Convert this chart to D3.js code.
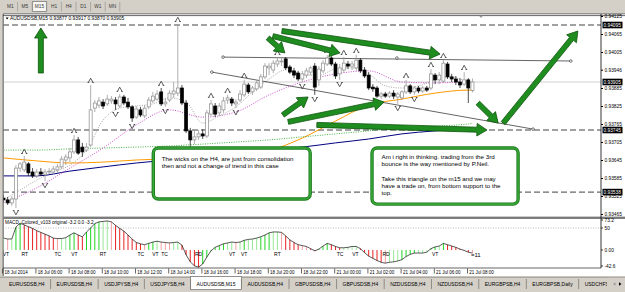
<!DOCTYPE html>
<html>
<head>
<meta charset="utf-8">
<script src="https://cdnjs.cloudflare.com/ajax/libs/d3/7.8.5/d3.min.js"></script>
<style>
body{margin:0;background:#fff;overflow:hidden}
svg{display:block;font-family:"Liberation Sans",Arial,sans-serif}
</style>
</head>
<body>
<svg id="chart" width="625" height="292"></svg>
<script>
// ---- values (AUDUSDSB M15) ----
const periods=["M1","M5","M15","H1","H4","D1","W1","MN"]
const tabs=["EURUSDSB,H4","EURUSDSB,H4","USDJPYSB,H4","USDJPYSB,H4","AUDUSDSB,M15","AUDUSDSB,H4","GBPUSDSB,H4","GBPUSDSB,H4","NZDUSDSB,H4","NZDUSDSB,H4","EURGBPSB,H4","EURGBPSB,Daily","USDCHFSB,H4"]
const symbol="AUDUSDSB,M15"
const macdTitle="MACD_Colored_v103 original -3.2 0.0 -3.2"

const timeTickBars=[0,8,16,24,32,40,48,56,64,72,80,88,96,104,112]
const timeLabels=["18 Jul 2014","18 Jul 06:00","18 Jul 08:00","18 Jul 10:00","18 Jul 12:00","18 Jul 14:00","18 Jul 16:00","18 Jul 18:00","18 Jul 20:00","18 Jul 22:00","21 Jul 00:00","21 Jul 02:00","21 Jul 04:00","21 Jul 06:00","21 Jul 08:00"]

const opens=[0.93518,0.93512,0.93502,0.93515,0.93618,0.93612,0.93632,0.93605,0.93592,0.93605,
0.93598,0.93605,0.93605,0.93612,0.93622,0.93645,0.93652,0.93672,0.93712,0.93688,
0.93678,0.93695,0.93818,0.93828,0.93838,0.93832,0.93842,0.93845,0.93825,0.93855,
0.93838,0.93822,0.93788,0.93812,0.93792,0.93822,0.93842,0.93848,0.93872,0.93832,
0.93845,0.93865,0.93868,0.93885,0.93835,0.93742,0.93712,0.93722,0.93732,0.93725,
0.93798,0.93825,0.93802,0.93812,0.93845,0.93848,0.93832,0.93845,0.93862,0.93895,
0.93872,0.93882,0.93888,0.93922,0.93952,0.93945,0.93965,0.93972,0.93982,0.93955,
0.93942,0.93935,0.93915,0.93928,0.93938,0.93958,0.93912,0.93942,0.93965,0.93985,
0.93965,0.93932,0.93945,0.93965,0.93958,0.93952,0.93978,0.93945,0.93928,0.93888,
0.93885,0.93858,0.93865,0.93858,0.93868,0.93855,0.93852,0.93872,0.93892,0.93872,
0.93885,0.93875,0.93885,0.93885,0.93928,0.93912,0.93908,0.93965,0.93922,0.93915,
0.93905,0.93898,0.93912,0.93877]
const highs=[0.93528,0.93522,0.93525,0.93628,0.93638,0.93658,0.93638,0.93618,0.93615,0.93618,
0.93615,0.93618,0.93625,0.93632,0.93658,0.93665,0.93685,0.93728,0.93722,0.93702,
0.93702,0.93895,0.93845,0.93855,0.93848,0.93862,0.93858,0.93855,0.93865,0.93862,
0.93852,0.93828,0.93825,0.93822,0.93828,0.93855,0.93872,0.93878,0.93885,0.93852,
0.93878,0.93905,0.94098,0.93895,0.93845,0.93752,0.93745,0.93745,0.93748,0.93812,
0.93845,0.93835,0.93835,0.93855,0.93862,0.93855,0.93848,0.93878,0.93912,0.93902,
0.93892,0.93912,0.93932,0.93968,0.93968,0.93978,0.93988,0.93985,0.93988,0.93962,
0.93952,0.93942,0.93942,0.93952,0.93958,0.93968,0.93958,0.93978,0.93995,0.93992,
0.93972,0.93965,0.93988,0.93975,0.93975,0.93995,0.93985,0.93955,0.93938,0.93898,
0.93892,0.93872,0.93872,0.93875,0.93878,0.93872,0.93878,0.93912,0.93898,0.93892,
0.93892,0.93892,0.93892,0.93948,0.93935,0.93938,0.93978,0.93972,0.93932,0.93925,
0.93918,0.93938,0.93918,0.93917]
const lows=[0.93502,0.93495,0.93492,0.93485,0.93605,0.93605,0.93592,0.93585,0.93585,0.93592,
0.93575,0.93598,0.93598,0.93602,0.93615,0.93628,0.93638,0.93665,0.93662,0.93655,
0.93672,0.93688,0.93805,0.93818,0.93815,0.93825,0.93832,0.93812,0.93818,0.93828,
0.93815,0.93772,0.93782,0.93788,0.93785,0.93815,0.93835,0.93842,0.93825,0.93822,
0.93838,0.93852,0.93858,0.93828,0.93735,0.93688,0.93698,0.93712,0.93715,0.93718,
0.93792,0.93788,0.93792,0.93802,0.93832,0.93825,0.93818,0.93838,0.93855,0.93865,
0.93862,0.93875,0.93882,0.93915,0.93928,0.93935,0.93955,0.93958,0.93945,0.93932,
0.93918,0.93908,0.93905,0.93918,0.93928,0.93862,0.93892,0.93935,0.93958,0.93958,
0.93915,0.93912,0.93935,0.93948,0.93945,0.93942,0.93935,0.93918,0.93878,0.93872,
0.93852,0.93848,0.93852,0.93852,0.93848,0.93832,0.93845,0.93865,0.93865,0.93862,
0.93868,0.93868,0.93872,0.93878,0.93898,0.93898,0.93902,0.93915,0.93905,0.93895,
0.93885,0.93892,0.93835,0.93870]
const closes=[0.93512,0.93502,0.93515,0.93618,0.93632,0.93638,0.93602,0.93592,0.93605,0.93598,
0.93605,0.93608,0.93615,0.93622,0.93648,0.93655,0.93672,0.93712,0.93668,0.93672,
0.93688,0.93812,0.93835,0.93842,0.93825,0.93848,0.93848,0.93832,0.93855,0.93835,
0.93822,0.93785,0.93815,0.93795,0.93818,0.93845,0.93858,0.93865,0.93832,0.93838,
0.93868,0.93875,0.93885,0.93835,0.93742,0.93712,0.93722,0.93732,0.93725,0.93802,
0.93832,0.93798,0.93825,0.93842,0.93852,0.93835,0.93838,0.93865,0.93898,0.93872,
0.93885,0.93902,0.93922,0.93958,0.93958,0.93968,0.93975,0.93975,0.93952,0.93938,
0.93928,0.93915,0.93932,0.93942,0.93952,0.93888,0.93948,0.93968,0.93985,0.93965,
0.93925,0.93952,0.93968,0.93958,0.93965,0.93978,0.93942,0.93925,0.93885,0.93882,
0.93858,0.93865,0.93858,0.93868,0.93858,0.93865,0.93872,0.93892,0.93872,0.93885,
0.93875,0.93885,0.93878,0.93932,0.93912,0.93928,0.93968,0.93922,0.93915,0.93905,
0.93895,0.93912,0.93885,0.93905]

const upFractals=[5,17,21,28,38,42,50,54,58,66,78,82,85,97,103,106,111]
const downFractals=[3,10,27,31,39,56,72,75,81,95,99]

// moving averages, read every 4 bars (fast) or 8 bars (others), plus the last bar
const maFast=[0.93512,0.93545,0.93578,0.93605,0.93628,0.93678,0.93778,0.93818,0.93825,0.93832,
0.93852,0.93838,0.93768,0.93792,0.93822,0.93872,0.93915,0.93945,0.93928,0.93928,
0.93948,0.93952,0.93932,0.93892,0.93885,0.93892,0.93912,0.93922,0.93905,0.93902]
const maMagenta=[0.93502,0.93552,0.93618,0.93685,0.93762,0.93812,0.93788,0.93805,0.93862,0.93905,0.93932,0.93942,0.93905,0.93902,0.93905,0.93902]
const maGreen=[0.93678,0.93678,0.93682,0.93685,0.93688,0.93692,0.93698,0.93705,0.93712,0.93722,0.93732,0.93742,0.93752,0.93758,0.93765,0.93768]
const maOrange=[0.93652,0.93642,0.93635,0.93638,0.93645,0.93648,0.93645,0.93648,0.93675,0.93718,0.93775,0.93828,0.93848,0.93868,0.93878,0.93878]
const maNavy=[0.93592,0.93592,0.93608,0.93622,0.93635,0.93645,0.93655,0.93665,0.93678,0.93688,0.93702,0.93715,0.93732,0.93742,0.93748,0.93748]

const priceTicks=[0.94125,0.94065,0.94005,0.93946,0.93885,0.93825,0.93765,0.93705,0.93645,0.93585,0.93525,0.93465]
const levelLines=[0.94095,0.93745,0.93538]

const macdVals=[27,25,25,52,61,57,53,49,44,40,
36,32,27,26,26,28,34,39,34,30,
41,50,60,64,65,66,64,56,49,43,
34,25,17,14,12,15,18,20,18,17,
16,17,18,11,-11,-27,-36,-39,-32,-16,
-2,6,10,14,16,18,17,18,22,24,
25,27,30,34,39,41,41,40,32,23,
17,12,10,8,3,-2,2,9,15,12,
8,5,5,6,8,8,3,-6,-14,-19,
-24,-28,-30,-28,-27,-25,-22,-15,-10,-7,
-7,-7,-5,3,7,9,15,12,9,6,
2,-1,-5,-7]
const macdTicks=[73.2,50,0,-42.6]
const macdTickLabels=["73.2","50","0.00","-42.6"]
const macdMarkBars=[0.6,5.1,13.1,17.1,24,33.1,36.6,38.8,47,55.1,58,66,81.1,84.8,92.2,104]
const macdMarks=["VT","RT","TC","VT","RT","TC","VT","TC","RD","VT","VT","RT","TC","VT","RD","VT"]

// drawn objects, anchored in bar / price units
const trendLines=[[52.9,0.93988,136.7,0.93975],[50.2,0.93938,127.6,0.93748]]
const trendMid=[[94.8,0.93985]]
const arrows=[[9,0.93935,9,0.94085],[63.7,0.94052,67.8,0.94002],[64.9,0.94058,81.1,0.94002],
[67.1,0.94075,105.2,0.93998],[67.3,0.93795,73.4,0.93855],[68.6,0.93772,91.7,0.93838],
[75.5,0.93762,116.5,0.93745],[114.3,0.93835,119.2,0.93768],[120.4,0.93768,138.4,0.94075]]
const note1=["The wicks on the H4, are just from consolidation","then and not a change of trend in this case"]
const note2=["Am i right in thinking. trading from the 3rd","bounce is the way mentioned by P.Neil.","","Take this triangle on the m15 and we may","have a trade on, from bottom support to the","top."]
const noteBoxes=[[36.1,0.93685,73.9,0.93515],[88.8,0.93685,124,0.93498]]

// ---- layout ----
const svg=d3.select("#chart")
const left=3,right=601,mainTop=16,mainBot=216.5,macdTop=219.5,macdBot=268
const grey="#d4d0c8"

const x=d3.scaleLinear().domain([0,113]).range([3.5,472.45])
const y=d3.scaleLinear().domain([0.93465,0.94125]).range([214,16])
const ym=d3.scaleLinear().domain([-42.6,73.2]).range([268.7,217.8])

svg.append("rect").attr("width",625).attr("height",292).attr("fill","#fff")

// top toolbar
svg.append("rect").attr("width",625).attr("height",13).attr("fill",grey)
let tb=svg.append("g")
tb.selectAll("rect").data(periods).join("rect")
  .attr("x",(d,i)=>3.5+i*14.6).attr("y",1.5).attr("width",13.6).attr("height",10)
  .attr("fill",(d,i)=>i==2?"#f7f6f2":grey)
  .attr("stroke",(d,i)=>i==2?"#6d6d6d":"none").attr("stroke-width",0.7)
tb.selectAll("line").data(periods).join("line")
  .attr("x1",(d,i)=>3.5+(i+1)*14.6-0.5).attr("x2",(d,i)=>3.5+(i+1)*14.6-0.5)
  .attr("y1",2).attr("y2",11.5).attr("stroke","#9a978f").attr("stroke-width",0.7)
tb.selectAll("text").data(periods).join("text")
  .attr("x",(d,i)=>3.5+i*14.6+6.8).attr("y",8.3).attr("text-anchor","middle")
  .attr("font-size",4.8).attr("fill","#3a3a3a").text(d=>d)

// window frame
svg.append("rect").attr("x",0).attr("y",13).attr("width",3).attr("height",263).attr("fill",grey)
svg.append("line").attr("x1",3).attr("x2",625).attr("y1",13.8).attr("y2",13.8).attr("stroke","#404040").attr("stroke-width",0.8)
svg.append("line").attr("x1",3).attr("x2",625).attr("y1",15.6).attr("y2",15.6).attr("stroke","#404040").attr("stroke-width",0.8)
svg.append("line").attr("x1",3.2).attr("x2",3.2).attr("y1",14).attr("y2",276).attr("stroke","#303030").attr("stroke-width",0.8)

const defs=svg.append("defs")
defs.append("clipPath").attr("id","clipMain").append("rect")
  .attr("x",left+0.6).attr("y",mainTop).attr("width",right-left-0.6).attr("height",mainBot-mainTop)
defs.append("clipPath").attr("id","clipMacd").append("rect")
  .attr("x",left+0.6).attr("y",macdTop).attr("width",right-left-0.6).attr("height",macdBot-macdTop)

let main=svg.append("g").attr("clip-path","url(#clipMain)")

// dashed levels and bid line
main.selectAll(".lvl").data(levelLines).join("line").attr("class","lvl")
  .attr("x1",left).attr("x2",right).attr("y1",d=>y(d)).attr("y2",d=>y(d))
  .attr("stroke","#111").attr("stroke-width",0.8).attr("stroke-dasharray","6,3")
const bid=closes[closes.length-1]
main.append("line").attr("x1",left).attr("x2",right).attr("y1",y(bid)).attr("y2",y(bid))
  .attr("stroke","#c4c4c4").attr("stroke-width",0.8)

// moving averages
const fastBars=d3.range(0,113,4).concat(113)
const slowBars=d3.range(0,113,8).concat(113)
const maLine=d3.line().x(d=>x(d[0])).y(d=>y(d[1])).curve(d3.curveMonotoneX)
const maDefs=[
  {bars:slowBars,vals:maNavy,color:"#000080",dash:null,w:1},
  {bars:slowBars,vals:maOrange,color:"#ff9a00",dash:null,w:1},
  {bars:slowBars,vals:maGreen,color:"#2fa82f",dash:"1,1.4",w:0.9},
  {bars:slowBars,vals:maMagenta,color:"#c640c6",dash:"1,1.4",w:0.9},
  {bars:fastBars,vals:maFast,color:"#8e8e8e",dash:"1,1.4",w:0.8}
]
maDefs.forEach(m=>{
  main.append("path").attr("d",maLine(m.bars.map((b,i)=>[b,m.vals[i]])))
    .attr("fill","none").attr("stroke",m.color).attr("stroke-width",m.w)
    .attr("stroke-dasharray",m.dash)
})

// trend lines
main.selectAll(".tl").data(trendLines).join("line").attr("class","tl")
  .attr("x1",d=>x(d[0])).attr("y1",d=>y(d[1])).attr("x2",d=>x(d[2])).attr("y2",d=>y(d[3]))
  .attr("stroke","#222").attr("stroke-width",0.7)
const anchors=trendLines.flatMap(d=>[[d[0],d[1]],[d[2],d[3]]]).concat(trendMid)
main.selectAll(".anc").data(anchors).join("circle").attr("class","anc")
  .attr("cx",d=>x(d[0])).attr("cy",d=>y(d[1])).attr("r",1.3)
  .attr("fill","#fff").attr("stroke","#222").attr("stroke-width",0.6)

// candles
const bars=opens.map((o,i)=>({i,o,h:highs[i],l:lows[i],c:closes[i]}))
main.selectAll(".wick").data(bars).join("line").attr("class","wick")
  .attr("x1",d=>x(d.i)).attr("x2",d=>x(d.i)).attr("y1",d=>y(d.h)).attr("y2",d=>y(d.l))
  .attr("stroke",d=>d.c>=d.o?"#9a9a9a":"#222").attr("stroke-width",0.8)
main.selectAll(".body").data(bars).join("rect").attr("class","body")
  .attr("x",d=>x(d.i)-1.5).attr("width",3)
  .attr("y",d=>y(Math.max(d.o,d.c)))
  .attr("height",d=>Math.max(0.8,Math.abs(y(d.o)-y(d.c))))
  .attr("fill",d=>d.c>=d.o?"#fff":"#000")
  .attr("stroke",d=>d.c>=d.o?"#8a8a8a":"#000").attr("stroke-width",0.7)

// fractal marks
main.selectAll(".fu").data(upFractals).join("path").attr("class","fu")
  .attr("d",i=>{const cx=x(i),cy=y(highs[i])-4.6
    return `M${cx-2.3},${cy+2}L${cx},${cy-2.2}L${cx+2.3},${cy+2}M${cx-3.1},${cy+2}H${cx-1.5}M${cx+1.5},${cy+2}H${cx+3.1}`})
  .attr("fill","none").attr("stroke","#333").attr("stroke-width",0.8)
main.selectAll(".fd").data(downFractals).join("path").attr("class","fd")
  .attr("d",i=>{const cx=x(i),cy=y(lows[i])+4.6
    return `M${cx-2.3},${cy-2}L${cx},${cy+2.2}L${cx+2.3},${cy-2}M${cx-3.1},${cy-2}H${cx-1.5}M${cx+1.5},${cy-2}H${cx+3.1}`})
  .attr("fill","none").attr("stroke","#333").attr("stroke-width",0.8)

// note boxes
const notes=[note1,note2]
noteBoxes.forEach((b,k)=>{
  const x0=x(b[0]),x1=x(b[2]),y0=y(b[1]),y1=y(b[3])
  main.append("rect").attr("x",x0).attr("y",y0).attr("width",x1-x0).attr("height",y1-y0)
    .attr("rx",5).attr("fill","#fff").attr("stroke","#1d7a1d").attr("stroke-width",3.4)
  main.append("rect").attr("x",x0).attr("y",y0).attr("width",x1-x0).attr("height",y1-y0)
    .attr("rx",5).attr("fill","none").attr("stroke","#38a838").attr("stroke-width",1.6)
  main.append("g").selectAll("text").data(notes[k]).join("text")
    .attr("x",x0+(k==0?8.5:9.5)).attr("y",(d,i)=>y0+(k==0?12.8:11.2)+i*7.1)
    .attr("font-size",6.2).attr("fill","#000").text(d=>d)
})

// green arrows
function arrowPath(x1,y1,x2,y2){
  const dx=x2-x1,dy=y2-y1,len=Math.hypot(dx,dy),ux=dx/len,uy=dy/len,nx=-uy,ny=ux
  const sw=2.5,hw=6.3,hl=10
  const bx=x2-ux*hl,by=y2-uy*hl
  const p=[[x1+nx*sw,y1+ny*sw],[bx+nx*sw,by+ny*sw],[bx+nx*hw,by+ny*hw],[x2,y2],
           [bx-nx*hw,by-ny*hw],[bx-nx*sw,by-ny*sw],[x1-nx*sw,y1-ny*sw]]
  return "M"+p.map(q=>q[0].toFixed(2)+","+q[1].toFixed(2)).join("L")+"Z"
}
main.selectAll(".arr").data(arrows).join("path").attr("class","arr")
  .attr("d",d=>arrowPath(x(d[0]),y(d[1]),x(d[2]),y(d[3])))
  .attr("fill","#1f8c1f").attr("stroke","#0c540c").attr("stroke-width",0.8).attr("stroke-linejoin","round")

// header
const last=bars[bars.length-1]
const f5=d3.format(".5f")
svg.append("path").attr("d","M5.6,17.6L8.6,17.6L7.1,19.6Z").attr("fill","#000")
svg.append("text").attr("x",10).attr("y",20.2).attr("font-size",4.9).attr("fill","#000")
  .text(`${symbol}  ${f5(last.o)} ${f5(last.h)} ${f5(last.l)} ${f5(last.c)}`)
svg.append("path").attr("d","M479,15.8L483,15.8L481,18Z").attr("fill","#999")

// pane separator
svg.append("rect").attr("x",3).attr("y",216.6).attr("width",622).attr("height",2.4).attr("fill","#7d7d7d")

// MACD pane
let mg=svg.append("g").attr("clip-path","url(#clipMacd)")
mg.append("line").attr("x1",left).attr("x2",right).attr("y1",ym(50)).attr("y2",ym(50))
  .attr("stroke","#9a9a9a").attr("stroke-width",0.7).attr("stroke-dasharray","1,1.5")
const macdData=macdVals.map((v,i)=>({i,v,d:i==0?0:v-macdVals[i-1]}))
mg.selectAll(".hist").data(macdData).join("line").attr("class","hist")
  .attr("x1",d=>x(d.i)).attr("x2",d=>x(d.i)).attr("y1",ym(0)).attr("y2",d=>ym(d.v))
  .attr("stroke",d=>d.d>=0?(Math.abs(d.d)<3?"#98e898":"#22d422"):(Math.abs(d.d)<3?"#f2a2a2":"#e82222"))
  .attr("stroke-width",1)
mg.append("path").attr("d",d3.line().x(d=>x(d.i)).y(d=>ym(d.v))(macdData))
  .attr("fill","none").attr("stroke","#111").attr("stroke-width",0.7)
mg.selectAll(".mk").data(macdMarks).join("text").attr("class","mk")
  .attr("x",(d,i)=>x(macdMarkBars[i])).attr("y",255.6).attr("text-anchor","middle")
  .attr("font-size",5).attr("fill","#000").text(d=>d)
mg.append("text").attr("x",x(113)-1.5).attr("y",256.5).attr("font-size",6).attr("fill","#000").text("=11")
svg.append("text").attr("x",5).attr("y",224).attr("font-size",4.7).attr("fill","#000").text(macdTitle)
svg.append("line").attr("x1",3).attr("x2",right).attr("y1",macdBot).attr("y2",macdBot).attr("stroke","#222").attr("stroke-width",0.7)

// price axis
svg.append("line").attr("x1",right).attr("x2",right).attr("y1",14).attr("y2",macdBot).attr("stroke","#000").attr("stroke-width",0.8)
let pa=svg.append("g").attr("transform",`translate(${right},0)`)
  .call(d3.axisRight(y).tickValues(priceTicks).tickSize(2).tickPadding(1.5).tickFormat(f5))
pa.select(".domain").remove()
pa.selectAll("text").attr("font-size",4.8).attr("font-family","Liberation Sans, Arial, sans-serif").attr("fill","#000")
pa.selectAll("line").attr("stroke","#000")
const marked=levelLines.concat([bid])
let mk=svg.append("g").selectAll("g").data(marked).join("g").attr("transform",d=>`translate(602.5,${y(d)})`)
mk.append("rect").attr("x",0).attr("y",-3.3).attr("width",20).attr("height",6.6).attr("fill","#000")
mk.append("text").attr("x",1).attr("y",1.8).attr("font-size",4.8).attr("fill","#fff").text(d=>f5(d))

let ma=svg.append("g").selectAll("g").data(macdTicks).join("g")
  .attr("transform",d=>`translate(${right},${Math.min(Math.max(ym(d),220),266)})`)
ma.append("line").attr("x1",0).attr("x2",2).attr("stroke","#000").attr("stroke-width",0.7)
ma.append("text").attr("x",3.5).attr("y",1.7).attr("font-size",4.8).attr("fill","#000").text((d,i)=>macdTickLabels[i])

// time axis
let ta=svg.append("g").selectAll("g").data(timeTickBars).join("g").attr("transform",d=>`translate(${x(d)-0.8},0)`)
ta.append("line").attr("y1",268.5).attr("y2",273.5).attr("stroke","#000").attr("stroke-width",0.6)
ta.append("text").attr("x",1.8).attr("y",273.6).attr("font-size",4.5).attr("fill","#000").text((d,i)=>timeLabels[i])

// bottom tabs
svg.append("rect").attr("x",0).attr("y",276).attr("width",625).attr("height",16).attr("fill",grey)
svg.append("line").attr("x1",0).attr("x2",625).attr("y1",277.3).attr("y2",277.3).attr("stroke","#8a8780").attr("stroke-width",0.7)
let tg=svg.append("g")
let tx=3
tabs.forEach((t,i)=>{
  const txt=tg.append("text").attr("y",285.6).attr("font-size",5).attr("fill","#000").text(t)
  const w=txt.node().getComputedTextLength()+12
  if(i==4){
    tg.insert("rect","text").attr("x",tx).attr("y",276.5).attr("width",w).attr("height",13)
      .attr("fill","#fff").attr("stroke","#6f6f6f").attr("stroke-width",0.7)
  }
  txt.attr("x",tx+6)
  tg.append("line").attr("x1",tx+w).attr("x2",tx+w).attr("y1",279).attr("y2",289)
    .attr("stroke","#7d7a73").attr("stroke-width",0.8)
  tx+=w
})
svg.append("rect").attr("x",607).attr("y",277.8).attr("width",18).attr("height",14.2).attr("fill",grey)
svg.append("path").attr("d","M613,284L615.5,282.3L615.5,285.7Z").attr("fill","#9a9a9a")
svg.append("path").attr("d","M621.5,284L619,282.3L619,285.7Z").attr("fill","#000")
</script>
</body>
</html>
